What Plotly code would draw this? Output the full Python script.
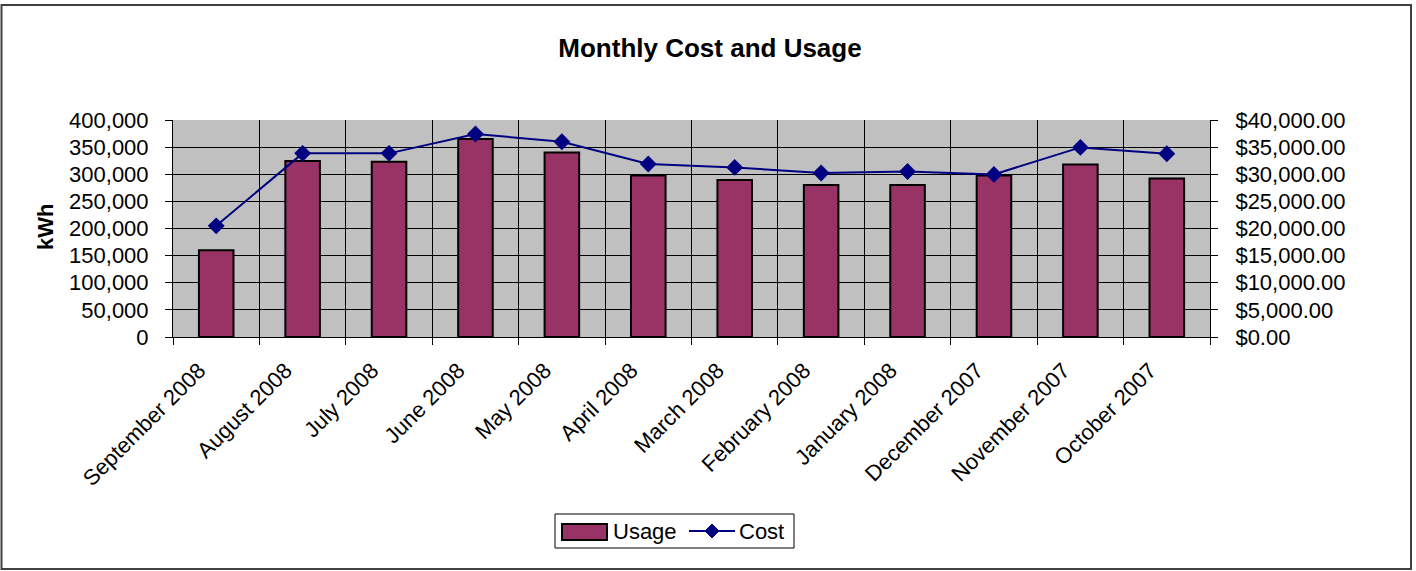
import plotly.graph_objects as go

months = ["September 2008", "August 2008", "July 2008", "June 2008", "May 2008",
          "April 2008", "March 2008", "February 2008", "January 2008",
          "December 2007", "November 2007", "October 2007"]
usage_kwh = [160000, 324300, 323000, 364900, 340300, 297800,
             289200, 280000, 280000, 297800, 318150, 292300]
cost_usd = [20490, 33850, 33850, 37420, 36000, 31880,
            31260, 30220, 30520, 29970, 34950, 33780]
left_ticks = [0, 50000, 100000, 150000, 200000, 250000, 300000, 350000, 400000]
right_ticks = [0, 5000, 10000, 15000, 20000, 25000, 30000, 35000, 40000]

W, H = 1416, 571
L, R, T, B = 173, 1210, 120, 337
pw, ph = R - L, B - T

def px(x):
    return (x - L) / pw

def py(y):
    return (B - y) / ph

FONT = "Arial, 'Liberation Sans', sans-serif"
BAR_COLOR = "#993366"
LINE_COLOR = "#000080"

fig = go.Figure()
fig.add_trace(go.Bar(
    x=months, y=usage_kwh, name="Usage", width=0.4,
    marker=dict(color=BAR_COLOR, line=dict(color="black", width=2)),
    yaxis="y", showlegend=False,
))
fig.add_trace(go.Scatter(
    x=months, y=cost_usd, name="Cost", mode="lines+markers",
    line=dict(color=LINE_COLOR, width=2),
    marker=dict(symbol="diamond", size=13, color=LINE_COLOR),
    yaxis="y2", showlegend=False, cliponaxis=False,
))

# legend drawn as decorations (box, swatch, line sample, labels)
leg_shapes = [
    dict(type="rect", xref="paper", yref="paper", x0=px(555), x1=px(794),
         y0=py(548), y1=py(514), line=dict(color="black", width=1), fillcolor="white"),
    dict(type="rect", xref="paper", yref="paper", x0=px(562), x1=px(607),
         y0=py(540), y1=py(524), line=dict(color="black", width=2), fillcolor=BAR_COLOR),
    dict(type="line", xref="paper", yref="paper", x0=px(689), x1=px(735),
         y0=py(531), y1=py(531), line=dict(color=LINE_COLOR, width=2)),
    dict(type="path", xref="paper", yref="paper",
         path="M {a},{c} L {b},{d} L {e},{c} L {b},{f} Z".format(
             a=px(705), b=px(712), e=px(719), c=py(531), d=py(524), f=py(538)),
         line=dict(color=LINE_COLOR, width=1), fillcolor=LINE_COLOR),
]
leg_annots = [
    dict(text="Usage", xref="paper", yref="paper", x=px(611), y=py(531),
         xanchor="left", yanchor="middle", showarrow=False,
         font=dict(family=FONT, size=22, color="black")),
    dict(text="Cost", xref="paper", yref="paper", x=px(737), y=py(531),
         xanchor="left", yanchor="middle", showarrow=False,
         font=dict(family=FONT, size=22, color="black")),
]

fig.update_layout(
    width=W, height=H,
    margin=dict(l=L, r=W - R, t=T, b=H - B, autoexpand=False),
    paper_bgcolor="white",
    plot_bgcolor="#C0C0C0",
    font=dict(family=FONT, size=22, color="black"),
    title=dict(text="<b>Monthly Cost and Usage</b>", xref="container", x=710 / W,
               xanchor="center", yref="container", y=1 - 48 / H, yanchor="middle",
               font=dict(family=FONT, size=26, color="black")),
    showlegend=False,
    bargap=0.6,
    xaxis=dict(
        type="category", range=[-0.5, len(months) - 0.5],
        tickson="boundaries", showgrid=True, gridcolor="black",
        gridwidth=1, ticks="outside", ticklen=7, tickcolor="black",
        tickangle=-45, showline=True, linecolor="black", linewidth=1,
        ticklabelshift=-17, ticklabelstandoff=11,
        tickfont=dict(family=FONT, size=22),
    ),
    yaxis=dict(
        range=[0, 400000], tickvals=left_ticks, tickformat=",d",
        showgrid=True, gridcolor="black", gridwidth=1, zeroline=False,
        ticks="outside", ticklen=7, tickcolor="black",
        showline=True, linecolor="black", linewidth=1,
        ticklabelstandoff=12,
        tickfont=dict(family=FONT, size=22),
    ),
    yaxis2=dict(
        range=[0, 40000], tickvals=right_ticks, tickformat="$,.2f",
        overlaying="y", side="right", showgrid=False, zeroline=False,
        ticks="outside", ticklen=7, tickcolor="black",
        showline=True, linecolor="black", linewidth=1,
        ticklabelstandoff=13,
        tickfont=dict(family=FONT, size=22),
    ),
    annotations=[dict(
        text="<b>kWh</b>", xref="paper", yref="paper", x=px(45), y=py(227),
        xanchor="center", yanchor="middle", textangle=-90, showarrow=False,
        font=dict(family=FONT, size=22, color="black"),
    )] + leg_annots,
    shapes=[dict(
        type="rect", xref="paper", yref="paper",
        x0=px(1.5), x1=px(1411), y0=py(569), y1=py(5),
        line=dict(color="#404040", width=2), fillcolor="rgba(0,0,0,0)", layer="below",
    )] + leg_shapes,
)

fig.write_html("out.html", config={"displayModeBar": False},
               post_script="document.body.style.margin='0';document.body.style.overflow='hidden';")
